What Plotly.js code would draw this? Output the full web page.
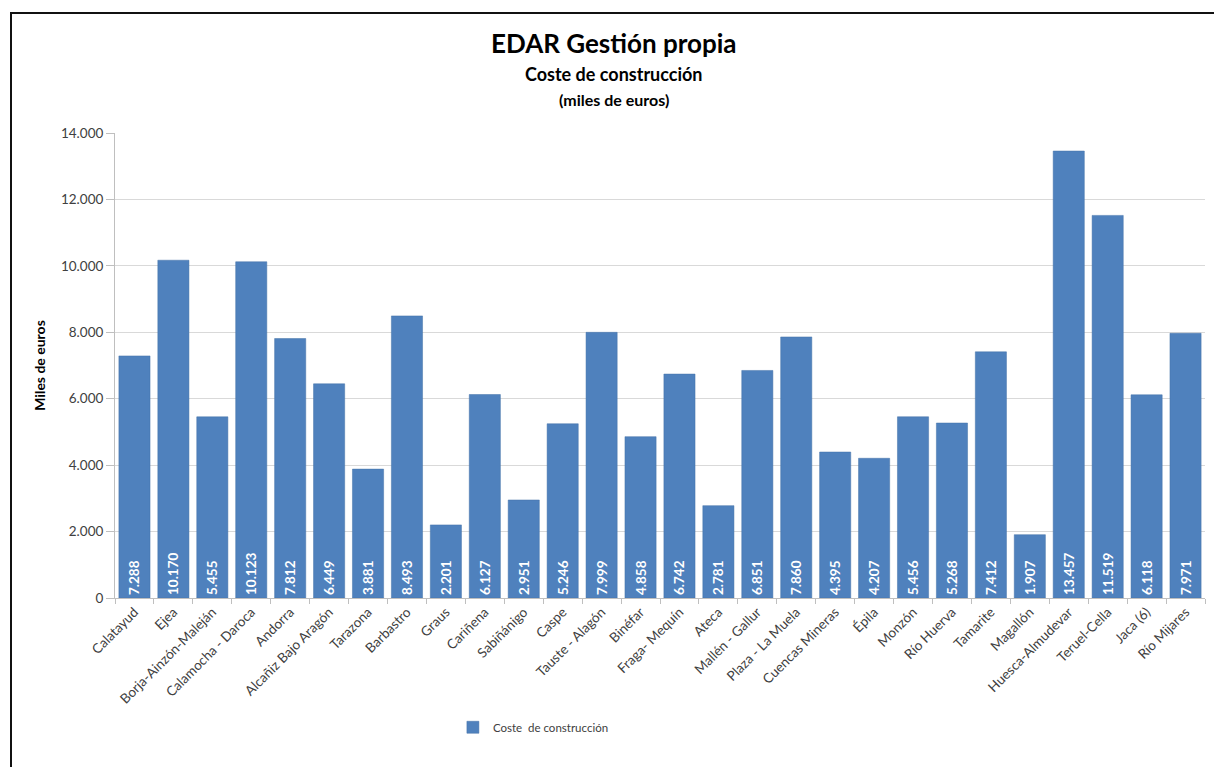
<!DOCTYPE html>
<html>
<head>
<meta charset="utf-8">
<script src="https://cdn.plot.ly/plotly-3.0.1.min.js"></script>
<style>
html,body{margin:0;padding:0;background:#fff;overflow:hidden;}
#chart{width:1214px;height:767px;}
#frame{position:absolute;left:10px;top:12px;width:1220px;height:780px;border:2px solid #111;pointer-events:none;box-sizing:border-box;}
</style>
</head>
<body>
<div id="chart"></div>
<div id="frame"></div>
<script>
const categories = ["Calatayud","Ejea","Borja-Ainzón-Maleján","Calamocha - Daroca","Andorra","Alcañiz Bajo Aragón","Tarazona","Barbastro","Graus","Cariñena","Sabiñánigo","Caspe","Tauste - Alagón","Binéfar","Fraga- Mequín","Ateca","Mallén - Gallur","Plaza - La Muela","Cuencas Mineras","Épila","Monzón","Río Huerva","Tamarite","Magallón","Huesca-Almudevar","Teruel-Cella","Jaca (6)","Río Mijares"];
const costeConstruccion = [7288,10170,5455,10123,7812,6449,3881,8493,2201,6127,2951,5246,7999,4858,6742,2781,6851,7860,4395,4207,5456,5268,7412,1907,13457,11519,6118,7971];
const yTicks = [0,2000,4000,6000,8000,10000,12000,14000];

const FONT = "Lato, 'Open Sans', sans-serif";

const trace = {
  type: 'bar',
  x: categories,
  y: costeConstruccion,
  name: 'Coste  de construcción',
  marker: {color: '#4F81BD', line: {color: '#4472A8', width: 0.5}},
  texttemplate: '%{y:,.0f}',
  textposition: 'inside',
  insidetextanchor: 'start',
  textangle: -90,
  textfont: {family: FONT, size: 13.5, color: '#ffffff', weight: 'bold'},
  constraintext: 'none',
  hoverinfo: 'x+y'
};

const layout = {
  width: 1214, height: 767,
  separators: ',.',
  margin: {l: 115, r: 9, t: 133, b: 169},
  paper_bgcolor: '#ffffff',
  plot_bgcolor: '#ffffff',
  bargap: 0.2,
  font: {family: FONT, color: '#404040'},
  showlegend: true,
  legend: {
    orientation: 'h', x: 0.31, y: -0.278, xanchor: 'left', yanchor: 'middle',
    font: {family: FONT, size: 11.5, color: '#404040'},
    itemwidth: 30
  },
  xaxis: {
    type: 'category',
    tickangle: -45,
    tickfont: {family: FONT, size: 13.5, color: '#404040'},
    showline: true, linecolor: '#bfbfbf', linewidth: 1,
    ticks: 'outside', ticklen: 5, tickcolor: '#bfbfbf', tickson: 'boundaries',
    showgrid: false,
    automargin: false
  },
  yaxis: {
    range: [0, 14000],
    tickvals: yTicks,
    tickformat: ',d',
    tickfont: {family: FONT, size: 13.5, color: '#404040'},
    showgrid: true, gridcolor: '#d9d9d9', gridwidth: 1,
    showline: true, linecolor: '#bfbfbf',
    ticks: 'outside', ticklen: 8, tickcolor: '#bfbfbf',
    zeroline: false,
    title: {text: 'Miles de euros', font: {family: FONT, size: 14, color: '#000', weight: 'bold'}, standoff: 12},
    automargin: false
  },
  annotations: [
    {text: '<b>EDAR Gestión propia</b>', xref: 'paper', yref: 'paper', x: 0.458, y: 1.193, xanchor: 'center', yanchor: 'middle', showarrow: false, font: {family: FONT, size: 26, color: '#000'}},
    {text: '<b>Coste de construcción</b>', xref: 'paper', yref: 'paper', x: 0.458, y: 1.126, xanchor: 'center', yanchor: 'middle', showarrow: false, font: {family: FONT, size: 18, color: '#000'}},
    {text: '<b>(miles de euros)</b>', xref: 'paper', yref: 'paper', x: 0.458, y: 1.072, xanchor: 'center', yanchor: 'middle', showarrow: false, font: {family: FONT, size: 16, color: '#000'}}
  ]
};

Plotly.newPlot('chart', [trace], layout, {displayModeBar: false, responsive: false});
</script>
</body>
</html>
